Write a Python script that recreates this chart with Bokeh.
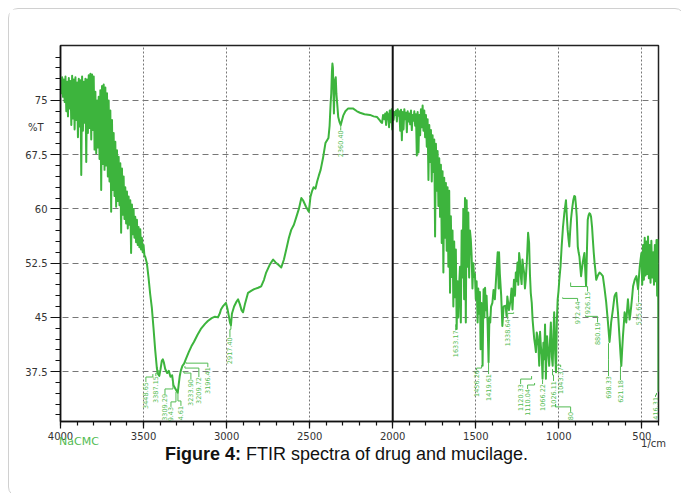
import math
from bokeh.plotting import figure
from bokeh.layouts import column
from bokeh.models import (Range1d, FixedTicker, Span, ColumnDataSource, LinearAxis, Div)
from bokeh.core.properties import value
from bokeh.embed import file_html
from bokeh.resources import INLINE

# ---------------- data ----------------
# O-H / noisy region 4000-3490 cm-1 (sampled every 5 cm-1)
wn_high = list(range(4000, 3485, -5))
t_high = [
    77.8, 76.0, 78.2, 75.5, 77.9, 74.8, 78.3, 73.5, 77.6, 72.8,
    78.1, 73.9, 77.7, 71.6, 78.4, 72.5, 77.9, 71.0, 78.2, 72.3,
    77.5, 69.9, 78.0, 71.4, 77.8, 64.7, 78.3, 70.8, 77.6, 71.9,
    78.0, 66.5, 77.9, 70.5, 78.5, 71.2, 78.7, 69.6, 78.6, 70.9,
    78.3, 68.2, 76.2, 67.7, 75.0, 68.5, 75.5, 66.9, 76.4, 62.6,
    77.0, 66.2, 77.2, 65.4, 76.8, 66.0, 76.0, 64.5, 75.0, 63.8,
    73.6, 59.6, 72.3, 62.6, 70.5, 61.8, 69.3, 60.3, 68.1, 61.1,
    67.2, 60.5, 66.3, 56.7, 65.6, 59.2, 64.5, 58.6, 63.0, 58.0,
    62.4, 57.3, 61.7, 57.8, 61.2, 53.9, 60.6, 56.5, 60.0, 56.0,
    58.9, 55.4, 58.5, 55.0, 57.5, 54.7, 57.2, 54.4, 56.0, 54.0,
    55.0, 53.6, 53.4,
]

# 3480-2003 cm-1
wn_mid = [
    3480, 3470, 3460, 3450, 3440, 3430, 3420, 3414, 3405, 3398,
    3390, 3384, 3378, 3370, 3358, 3348, 3338, 3328, 3320, 3310,
    3300, 3294, 3288, 3282, 3276, 3266, 3256, 3246, 3228, 3212,
    3197, 3175, 3155, 3130, 3113, 3090, 3070, 3052, 3040, 3034,
    3020, 3004, 2995, 2986, 2980, 2974, 2968, 2955, 2940, 2931,
    2920, 2910, 2901, 2890, 2871, 2850, 2834, 2810, 2792, 2775,
    2762, 2740, 2720, 2705, 2690, 2671, 2655, 2641, 2625, 2611,
    2595, 2580, 2565, 2550, 2540, 2522, 2505, 2495, 2485, 2476,
    2465, 2455, 2445, 2434, 2420, 2405, 2395, 2387, 2380, 2374,
    2370, 2366, 2363, 2360, 2357, 2354, 2351, 2347, 2343, 2339,
    2334, 2328, 2320, 2313, 2305, 2298, 2285, 2268, 2240, 2215,
    2197, 2170, 2137, 2115, 2094, 2080, 2070, 2064, 2058, 2050,
    2045, 2040, 2035, 2028, 2022, 2018, 2012, 2006, 2003,
]
t_mid = [
    52.5, 50.5, 48.2, 46.3, 43.5, 40.5, 38.0, 37.2, 36.9, 37.8,
    39.0, 39.2, 38.8, 37.9, 37.3, 37.6, 36.8, 37.0, 35.6, 35.2,
    34.8, 34.6, 35.8, 36.9, 37.6, 38.3, 38.6, 39.2, 40.2, 41.0,
    41.6, 42.6, 43.4, 44.1, 44.5, 44.9, 45.1, 45.0, 45.6, 46.1,
    46.6, 47.0, 46.2, 45.1, 44.3, 43.9, 45.5, 46.5, 47.2, 47.5,
    46.8, 46.0, 45.7, 46.8, 48.4, 48.7, 48.9, 49.1, 49.3, 50.2,
    51.2, 52.3, 53.0, 52.6, 52.3, 51.9, 53.0, 54.4, 56.0, 57.1,
    57.8, 58.9, 60.0, 61.5, 61.2, 60.3, 59.6, 61.7, 62.5, 63.0,
    62.8, 63.8, 64.6, 65.4, 67.0, 69.1, 69.5, 69.8, 71.5, 74.5,
    76.0, 79.0, 80.1, 79.5, 76.5, 73.2, 76.0, 77.8, 78.2, 75.9,
    74.5, 72.7, 72.0, 71.6, 72.3, 72.9, 73.5, 73.9, 73.9, 73.5,
    73.3, 73.1, 73.0, 72.8, 72.7, 72.3, 72.0, 71.9, 73.0, 72.4,
    73.2, 71.6, 73.4, 73.0, 71.3, 73.6, 72.0, 73.8, 71.0,
]

# 2000-1600 cm-1 (sampled every 5 cm-1)
wn_carbonyl = list(range(2000, 1595, -5))
t_carbonyl = [
    73.6, 72.3, 73.4, 73.0, 73.6, 72.1, 73.8, 72.9, 73.5, 70.8,
    73.7, 69.5, 73.4, 71.0, 73.8, 72.4, 73.3, 70.6, 73.5, 72.1,
    73.2, 71.7, 73.6, 70.9, 73.0, 72.2, 73.5, 71.5, 73.1, 67.4,
    73.4, 67.8, 73.0, 70.2, 73.8, 71.3, 74.3, 70.8, 73.6, 69.9,
    73.0, 68.6, 72.4, 64.0, 71.6, 66.5, 70.9, 63.8, 70.2, 65.1,
    69.6, 56.2, 69.0, 62.5, 68.0, 60.4, 67.0, 58.9, 66.1, 55.3,
    65.2, 51.2, 64.3, 56.0, 63.6, 54.2, 63.0, 52.0, 62.5, 48.4,
    59.0, 50.6, 57.0, 46.5, 55.5, 47.8, 54.4, 43.4, 50.0, 45.0,
    49.5,
]

# 1595-1332 cm-1
wn_amide = [
    1595, 1590, 1585, 1580, 1575, 1570, 1565, 1560, 1555, 1550,
    1545, 1540, 1535, 1530, 1525, 1520, 1515, 1510, 1505, 1500,
    1495, 1489, 1485, 1480, 1475, 1471, 1466, 1461, 1459, 1455,
    1453, 1448, 1444, 1440, 1435, 1429, 1423, 1418, 1413, 1408,
    1400, 1393, 1385, 1375, 1368, 1362, 1360, 1355, 1347, 1340,
    1332,
]
t_amide = [
    52.0, 44.3, 57.0, 50.5, 60.0, 47.5, 61.5, 44.3, 61.2, 52.0,
    59.5, 50.5, 57.0, 55.8, 53.5, 49.0, 52.5, 50.6, 51.0, 47.5,
    50.0, 44.3, 49.0, 45.5, 48.5, 40.6, 47.0, 42.5, 38.3, 46.0,
    48.9, 45.0, 49.1, 46.0, 48.0, 44.3, 38.8, 45.0, 44.3, 46.5,
    47.0, 48.8, 47.5, 51.5, 54.0, 49.0, 54.0, 51.0, 48.0, 43.8,
    46.5,
]

# 1320-400 cm-1 (fingerprint)
wn_finger = [
    1320, 1315, 1310, 1300, 1290, 1285, 1279, 1270, 1264, 1259,
    1254, 1249, 1244, 1239, 1234, 1229, 1224, 1219, 1214, 1209,
    1204, 1199, 1192, 1185, 1179, 1174, 1169, 1163, 1158, 1153,
    1148, 1143, 1138, 1133, 1128, 1123, 1118, 1113, 1108, 1103,
    1098, 1093, 1088, 1083, 1078, 1074, 1071, 1064, 1058, 1053,
    1048, 1042, 1037, 1032, 1028, 1022, 1017, 1012, 1007, 1002,
    997, 990, 983, 975, 967, 962, 957, 952, 947, 942,
    937, 932, 927, 920, 913, 907, 902, 897, 892, 889,
    886, 881, 876, 871, 866, 861, 856, 851, 846, 841,
    836, 831, 826, 821, 816, 811, 806, 800, 795, 790,
    785, 780, 775, 765, 755, 745, 735, 725, 715, 705,
    695, 690, 685, 675, 665, 660, 654, 649, 644, 639,
    634, 629, 624, 619, 614, 609, 604, 599, 594, 589,
    584, 579, 574, 569, 564, 558, 553, 543, 533, 528,
    523, 518, 513, 508, 503, 498, 493, 488, 483, 478,
    473, 468, 463, 458, 453, 448, 443, 438, 432, 427,
    422, 417, 412, 408, 404, 401, 400,
]
t_finger = [
    46.6, 45.2, 47.9, 46.0, 47.5, 49.0, 46.1, 50.2, 48.0, 51.2,
    50.0, 52.6, 49.5, 53.9, 52.8, 50.7, 49.6, 53.0, 51.9, 51.2,
    49.0, 50.2, 53.0, 56.7, 55.3, 51.0, 48.4, 47.0, 44.7, 43.3,
    42.0, 41.2, 40.2, 42.9, 42.4, 41.0, 38.3, 43.0, 41.0, 39.8,
    36.5, 41.5, 39.2, 44.0, 36.5, 40.8, 42.4, 40.0, 38.3, 41.8,
    44.3, 39.5, 38.3, 43.0, 45.7, 40.0, 37.4, 44.5, 47.5, 48.6,
    50.2, 52.0, 54.8, 57.5, 59.4, 60.3, 61.2, 59.0, 57.1, 55.9,
    54.8, 56.8, 58.5, 60.0, 61.2, 61.8, 61.7, 60.5, 58.9, 57.0,
    54.8, 54.0, 53.4, 52.0, 50.7, 51.7, 52.6, 53.3, 53.9, 51.5,
    49.3, 54.0, 58.5, 59.1, 59.4, 59.3, 58.9, 57.5, 55.7, 54.0,
    52.6, 51.5, 50.2, 50.8, 51.2, 51.0, 50.7, 49.0, 47.1, 44.5,
    41.6, 42.8, 44.3, 46.0, 47.9, 48.2, 48.4, 47.0, 45.7, 43.8,
    42.0, 40.0, 38.3, 40.4, 42.4, 44.0, 45.7, 45.0, 44.3, 46.0,
    47.5, 46.0, 44.7, 45.5, 46.6, 48.0, 49.3, 50.2, 50.7, 49.8,
    48.9, 50.5, 52.0, 53.0, 53.9, 49.5, 55.0, 50.2, 56.0, 50.8,
    55.5, 51.0, 56.2, 50.4, 55.0, 49.8, 55.6, 50.5, 54.0, 49.5,
    55.0, 50.0, 55.7, 48.0, 55.7, 46.0, 34.7,
]

# peak labels: text, label x, label top (%T), leader start x, leader start y, elbow y
peak_text = [
    "3448.65", "3387.15", "3309.29", "3279.43", "3264.61", "3233.90", "3209.72",
    "3196.41", "2917.40", "2360.40", "1633.17", "1456.26", "1419.61", "1338.64",
    "1120.33", "1110.04", "1066.22", "1026.11", "1043.37", "1004.80", "972.44",
    "926.15", "880.19", "698.33", "621.18", "535.65", "416.31",
]
peak_label_x = [
    3486, 3426, 3371, 3335, 3275, 3215, 3167, 3113, 2980, 2313,
    1621, 1495, 1423, 1308, 1230, 1188, 1098, 1032, 989, 929,
    887, 827, 767, 701, 629, 520, 418,
]
peak_label_top = [
    36.06, 36.88, 34.41, 32.62, 32.76, 36.47, 36.75, 38.12, 42.25, 70.87,
    43.21, 37.71, 37.16, 44.73, 35.78, 35.10, 35.78, 36.20, 38.12, 31.93,
    47.20, 48.58, 44.32, 36.88, 36.33, 47.07, 34.00,
]
leader_x = [
    3444, 3408, 3323, 3305, 3293, 3257, 3251, 3245, 2974, 2313,
    1621, 1465, 1423, 1272, 1164, 1146, 1098, 1038, 1020, 1020,
    977, 929, 839, 701, 629, 520, 412,
]
leader_y = [
    37.16, 37.71, 36.20, 34.68, 34.55, 37.57, 38.26, 38.81, 43.90, 71.70,
    44.04, 38.40, 38.81, 45.69, 36.88, 35.92, 36.33, 37.85, 38.54, 33.03,
    47.76, 49.82, 45.28, 41.43, 38.26, 48.86, 34.55,
]
leader_elbow = [
    36.75, 37.30, 35.10, 33.31, 33.44, 37.30, 37.99, 38.67, 43.35, 71.28,
    43.63, 37.99, 37.85, 45.55, 36.47, 35.65, 36.06, 37.02, 38.40, 32.62,
    47.62, 49.27, 45.14, 39.22, 37.16, 48.03, 34.27,
]

x_major = [4000, 3500, 3000, 2500, 2000, 1500, 1000, 500]
x_minor = list(range(4000, 399, -100))
x_grid = [3500, 3000, 2500, 1500, 1000, 500]
y_major = [37.5, 45, 52.5, 60, 67.5, 75]
y_minor = [31.5 + 1.5 * i for i in range(34)]
y_unit_label = {71.25: "%T"}
sample_label = {3889: "NaCMC"}
x_unit_label = {430: "1/cm"}

caption_bold = "Figure 4:"
caption_rest = "FTIR spectra of drug and mucilage."

# ---------------- figure ----------------
GREEN = "#3db43d"
LABEL_GREEN = "#52bb52"

p = figure(width=665, height=442, output_backend="svg", toolbar_location=None,
           x_range=Range1d(4000, 400), y_range=Range1d(30.6, 82.6),
           min_border_left=51, min_border_right=16, min_border_top=36,
           min_border_bottom=28)
p.background_fill_color = "white"
p.border_fill_color = "white"
p.outline_line_color = "#222222"
p.outline_line_width = 1.5

for ax in (p.xaxis[0], p.yaxis[0]):
    ax.axis_line_color = "#111111"
    ax.axis_line_width = 1.5
    ax.major_tick_line_color = "#111111"
    ax.minor_tick_line_color = "#111111"
    ax.major_tick_line_width = 1.2
    ax.minor_tick_line_width = 1.2
    ax.major_tick_in = 0
    ax.minor_tick_in = 0
    ax.major_label_text_font = "DejaVu Sans"
    ax.major_label_text_font_size = "10px"
    ax.major_label_text_color = "#333333"

p.xaxis.ticker = FixedTicker(ticks=x_major, minor_ticks=x_minor)
p.xaxis.major_tick_out = 7
p.xaxis.minor_tick_out = 4
p.xaxis.major_label_standoff = 3
p.yaxis.ticker = FixedTicker(ticks=y_major, minor_ticks=y_minor)
p.yaxis.major_tick_out = 10
p.yaxis.minor_tick_out = 5
p.yaxis.major_label_standoff = 3


def text_axis(ticks_map, color, size, standoff):
    ax = LinearAxis(ticker=FixedTicker(ticks=list(ticks_map.keys()), minor_ticks=[]),
                    major_label_overrides=ticks_map)
    ax.axis_line_color = None
    ax.major_tick_line_color = None
    ax.minor_tick_line_color = None
    ax.major_tick_out = 0
    ax.major_tick_in = 0
    ax.minor_tick_out = 0
    ax.minor_tick_in = 0
    ax.major_label_standoff = standoff
    ax.major_label_text_font = "DejaVu Sans"
    ax.major_label_text_font_size = size
    ax.major_label_text_color = color
    return ax


p.add_layout(text_axis(y_unit_label, "#333333", "10px", -21), "left")
p.add_layout(text_axis(sample_label, LABEL_GREEN, "11px", -8), "below")
p.add_layout(text_axis(x_unit_label, "#333333", "10px", -13), "below")

p.xgrid.ticker = FixedTicker(ticks=x_grid)
p.xgrid.grid_line_color = "#777777"
p.xgrid.grid_line_dash = "2 2"
p.xgrid.grid_line_width = 1
p.ygrid.ticker = FixedTicker(ticks=y_major)
p.ygrid.grid_line_color = "#777777"
p.ygrid.grid_line_dash = "6 4"
p.ygrid.grid_line_width = 1

p.add_layout(Span(location=2000, dimension="height", line_color="#111111", line_width=2))

wn_all = wn_high + wn_mid + wn_carbonyl + wn_amide + wn_finger
t_all = t_high + t_mid + t_carbonyl + t_amide + t_finger
spec = ColumnDataSource(dict(x=wn_all, y=t_all))
p.line("x", "y", source=spec, line_color=GREEN, line_width=2, line_join="round")

lead_xs = [[sx, sx, lx, lx] for sx, lx in zip(leader_x, peak_label_x)]
lead_ys = [[sy, ey, ey, ty] for sy, ey, ty in zip(leader_y, leader_elbow, peak_label_top)]
p.multi_line(lead_xs, lead_ys, line_color=LABEL_GREEN, line_width=1)
lab_src = ColumnDataSource(dict(x=peak_label_x, y=peak_label_top, text=peak_text))
p.text("x", "y", text="text", source=lab_src, angle=math.pi / 2,
       text_align="right", text_baseline="middle",
       text_font=value("DejaVu Sans"), text_font_size="6.5px",
       text_color=LABEL_GREEN)

caption = Div(text='<div style="position:relative;top:-6px"><b>%s</b> %s</div>' % (caption_bold, caption_rest),
              width=665, height=35,
              styles={"text-align": "center", "font-family": "Liberation Sans, Arial, sans-serif",
                      "font-size": "18px", "line-height": "8px", "color": "#111111"})

layout = column(p, caption, spacing=0,
                styles={"border": "1px solid #d0d0d0", "border-radius": "10px",
                        "background-color": "white", "margin": "8px"})

open("out.html", "w").write(file_html(layout, INLINE))
